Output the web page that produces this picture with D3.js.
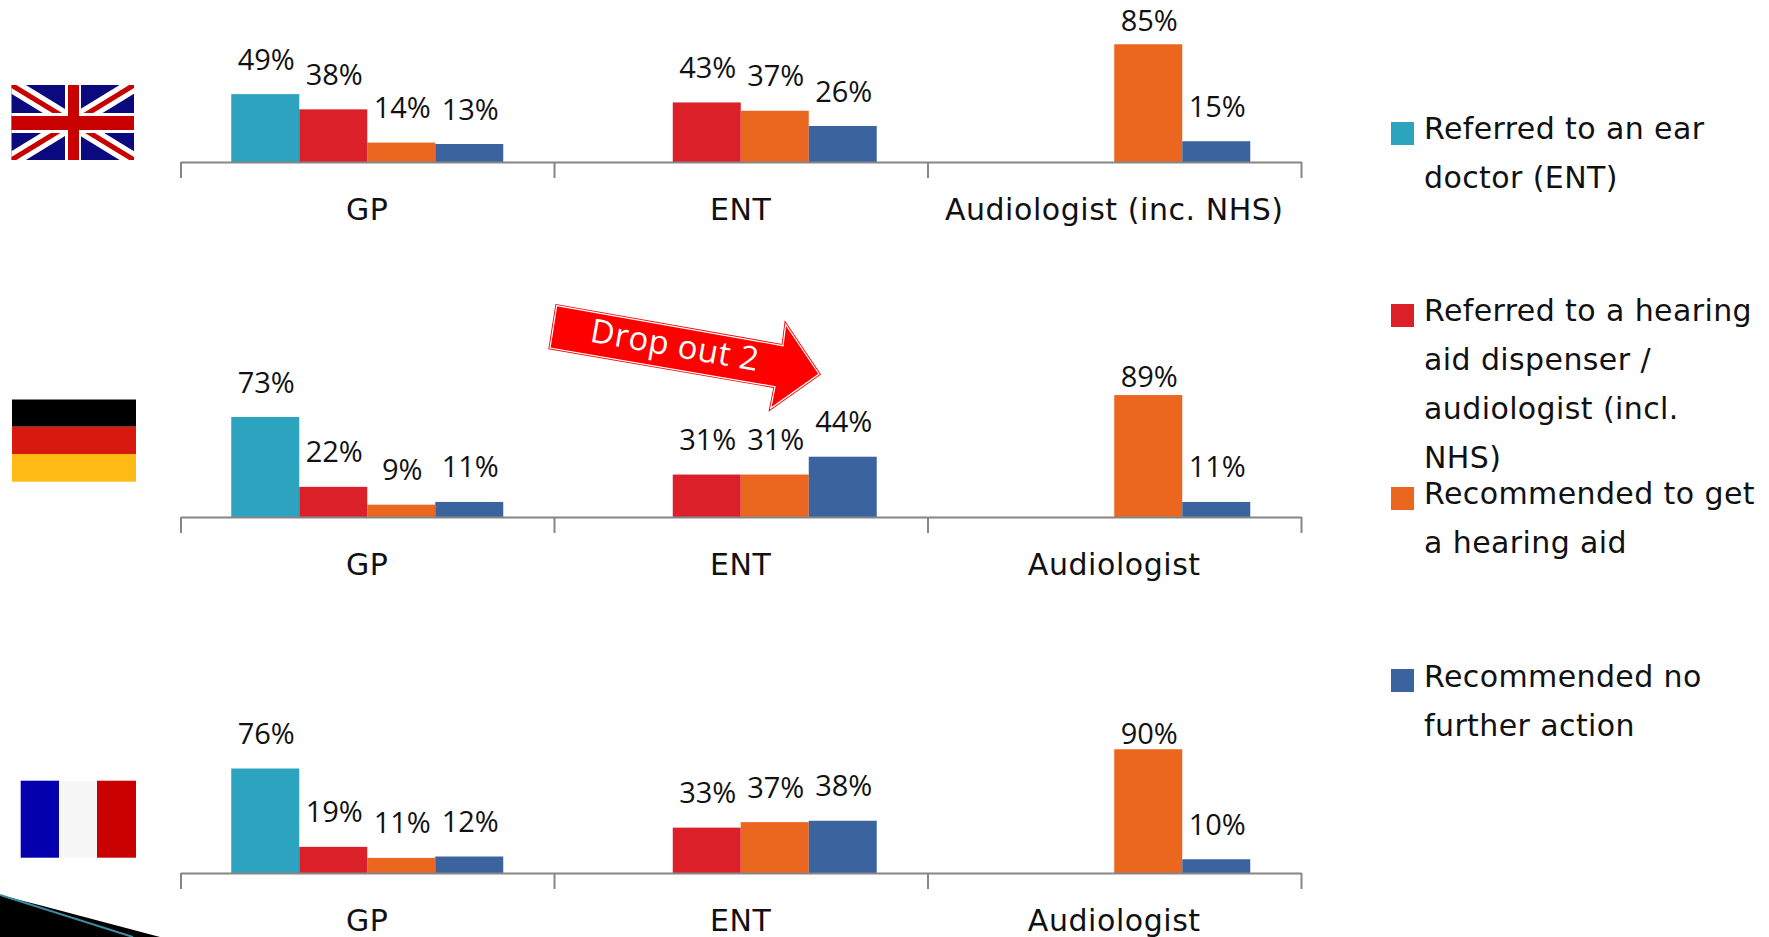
<!DOCTYPE html>
<html>
<head>
<meta charset="utf-8">
<script src="https://cdnjs.cloudflare.com/ajax/libs/d3/7.8.5/d3.min.js"></script>
<style>
body { margin: 0; background: #fff; overflow: hidden; }
text { fill: #111; }
.val { font-family: "Open Sans", sans-serif; font-size: 29px; }
.cat { font-family: "DejaVu Sans", sans-serif; font-size: 30px; letter-spacing: 0.55px; }
.leg { font-family: "DejaVu Sans", sans-serif; font-size: 30px; letter-spacing: 0.4px; }
</style>
</head>
<body>
<div id="chart"></div>
<script>
var seriesNames = ["Referred to an ear doctor (ENT)", "Referred to a hearing aid dispenser / audiologist (incl. NHS)", "Recommended to get a hearing aid", "Recommended no further action"];
var seriesColors = ["#2CA3BF", "#DC202A", "#EB661F", "#3B649F"];

var ukGroups = ["GP", "ENT", "Audiologist (inc. NHS)"];
var deGroups = ["GP", "ENT", "Audiologist"];
var frGroups = ["GP", "ENT", "Audiologist"];

// one row per group, null = no bar
var ukValues = [[49, 38, 14, 13], [null, 43, 37, 26], [null, null, 85, 15]];
var deValues = [[73, 22, 9, 11], [null, 31, 31, 44], [null, null, 89, 11]];
var frValues = [[76, 19, 11, 12], [null, 33, 37, 38], [null, null, 90, 10]];

var legendLines = [["Referred to an ear", "doctor (ENT)"],
  ["Referred to a hearing", "aid dispenser /", "audiologist (incl.", "NHS)"],
  ["Recommended to get", "a hearing aid"],
  ["Recommended no", "further action"]];

var width = 1769, height = 937;
var svg = d3.select("#chart").append("svg").attr("width", width).attr("height", height);

var x0Range = [180.5, 1301];

var panels = [
  {groups: ukGroups, values: ukValues, base: 162, topLift: 24, full: 138.5},
  {groups: deGroups, values: deValues, base: 517, topLift: 19, full: 137},
  {groups: frGroups, values: frValues, base: 873, topLift: 16, full: 137.5}
];

panels.forEach(function(p) {
  var x0 = d3.scaleBand().domain(d3.range(3)).range(x0Range);
  var x1 = d3.scaleBand().domain(d3.range(4)).range([0, 272]);
  var y = d3.scaleLinear().domain([0, 100]).range([0, p.full]);
  var pad = (x0.bandwidth() - 272) / 2;
  var g = svg.append("g").attr("transform", "translate(0," + p.base + ")");

  var items = [];
  p.values.forEach(function(row, i) {
    row.forEach(function(v, s) {
      if (v !== null) items.push({group: i, series: s, value: v});
    });
  });

  g.selectAll("rect").data(items).enter().append("rect")
    .attr("x", function(d) { return x0(d.group) + pad + x1(d.series); })
    .attr("y", function(d) { return -y(d.value); })
    .attr("width", x1.bandwidth())
    .attr("height", function(d) { return y(d.value); })
    .attr("fill", function(d) { return seriesColors[d.series]; });

  g.selectAll("text.val").data(items).enter().append("text")
    .attr("class", "val")
    .attr("text-anchor", "middle")
    .attr("x", function(d) { return x0(d.group) + pad + x1(d.series) + x1.bandwidth() / 2 + 1; })
    .attr("y", function(d) {
      var lift = d.value > 80 ? p.topLift : 35;
      return -y(d.value) - lift + 10.5;
    })
    .text(function(d) { return d.value + "%"; });

  // axis line and ticks at the band edges
  var edges = d3.scaleLinear().domain([0, 3]).range(x0Range);
  var tickAxis = d3.axisBottom(edges).tickValues([0, 1, 2, 3]).tickSize(16).tickSizeOuter(0).tickFormat("");
  var ag = g.append("g").call(tickAxis);
  ag.selectAll("path, line").attr("stroke", "#868686").attr("stroke-width", 2);

  var labelScale = d3.scaleBand().domain(p.groups).range(x0Range);
  var lg = g.append("g").call(d3.axisBottom(labelScale).tickSize(0).tickPadding(37));
  lg.select("path").remove();
  lg.selectAll("text").attr("class", "cat").attr("fill", null).style("font-family", null).style("font-size", null);
  lg.attr("font-size", null).attr("font-family", null);
});

// legend
var legendSquareY = [122, 304, 487, 669];
var legendBaseY = [139, 321, 504, 687];
seriesColors.forEach(function(c, i) {
  svg.append("rect").attr("x", 1391).attr("y", legendSquareY[i]).attr("width", 23).attr("height", 23).attr("fill", c);
  legendLines[i].forEach(function(line, j) {
    svg.append("text").attr("class", "leg").attr("x", 1424).attr("y", legendBaseY[i] + j * 49).text(line);
  });
});

// callout arrow
var arrowPts = [[556.7, 305.7], [783, 345.7], [785.7, 324.3], [819, 374], [770.7, 408.3], [775, 386.7], [550, 348]];
var line = d3.line().curve(d3.curveLinearClosed);
svg.append("path").attr("d", line(arrowPts)).attr("fill", "#FF0000").attr("stroke", "#FF0000").attr("stroke-width", 3);
svg.append("path").attr("d", line(arrowPts)).attr("fill", "none").attr("stroke", "#fff").attr("stroke-width", 1.2);
svg.append("text").attr("transform", "translate(675,345) rotate(10)")
  .attr("text-anchor", "middle").attr("dy", "0.35em")
  .style("font-family", "'Open Sans', sans-serif").style("font-size", "33px").style("letter-spacing", "0.5px").style("fill", "#fff")
  .text("Drop out 2");

// flags
var uk = svg.append("g");
uk.append("rect").attr("x", 11.5).attr("y", 85).attr("width", 122.5).attr("height", 75).attr("fill", "#0A0A7E");
var ukClip = svg.append("clipPath").attr("id", "ukclip").append("rect").attr("x", 11.5).attr("y", 85).attr("width", 122.5).attr("height", 75);
var diag = uk.append("g").attr("clip-path", "url(#ukclip)");
[[[11.5, 85], [134, 160]], [[11.5, 160], [134, 85]]].forEach(function(l) {
  diag.append("line").attr("x1", l[0][0]).attr("y1", l[0][1]).attr("x2", l[1][0]).attr("y2", l[1][1]).attr("stroke", "#fff").attr("stroke-width", 15);
  diag.append("line").attr("x1", l[0][0]).attr("y1", l[0][1]).attr("x2", l[1][0]).attr("y2", l[1][1]).attr("stroke", "#C80000").attr("stroke-width", 5);
});
uk.append("rect").attr("x", 65).attr("y", 85).attr("width", 16).attr("height", 75).attr("fill", "#fff");
uk.append("rect").attr("x", 11.5).attr("y", 113).attr("width", 122.5).attr("height", 20).attr("fill", "#fff");
uk.append("rect").attr("x", 68).attr("y", 85).attr("width", 11).attr("height", 75).attr("fill", "#C80000");
uk.append("rect").attr("x", 11.5).attr("y", 116).attr("width", 122.5).attr("height", 14).attr("fill", "#C80000");

var deStripes = [[399.5, 27.2, "#000000"], [426.7, 27.3, "#D7190F"], [454, 27.7, "#FFBA14"]];
deStripes.forEach(function(s) {
  svg.append("rect").attr("x", 12).attr("y", s[0]).attr("width", 124).attr("height", s[1]).attr("fill", s[2]);
});
var frStripes = [[20.7, 38.3, "#0500AE"], [59, 38, "#F7F7F7"], [97, 39, "#C80000"]];
frStripes.forEach(function(s) {
  svg.append("rect").attr("x", s[0]).attr("y", 780.7).attr("width", s[1]).attr("height", 77).attr("fill", s[2]);
});

// corner decoration of the slide
svg.append("path").attr("d", line([[0, 895], [43, 906], [160, 937], [0, 937]])).attr("fill", "#000");
svg.append("line").attr("x1", 0).attr("y1", 895).attr("x2", 133).attr("y2", 937).attr("stroke", "#3F8CA0").attr("stroke-width", 2);
</script>
</body>
</html>
